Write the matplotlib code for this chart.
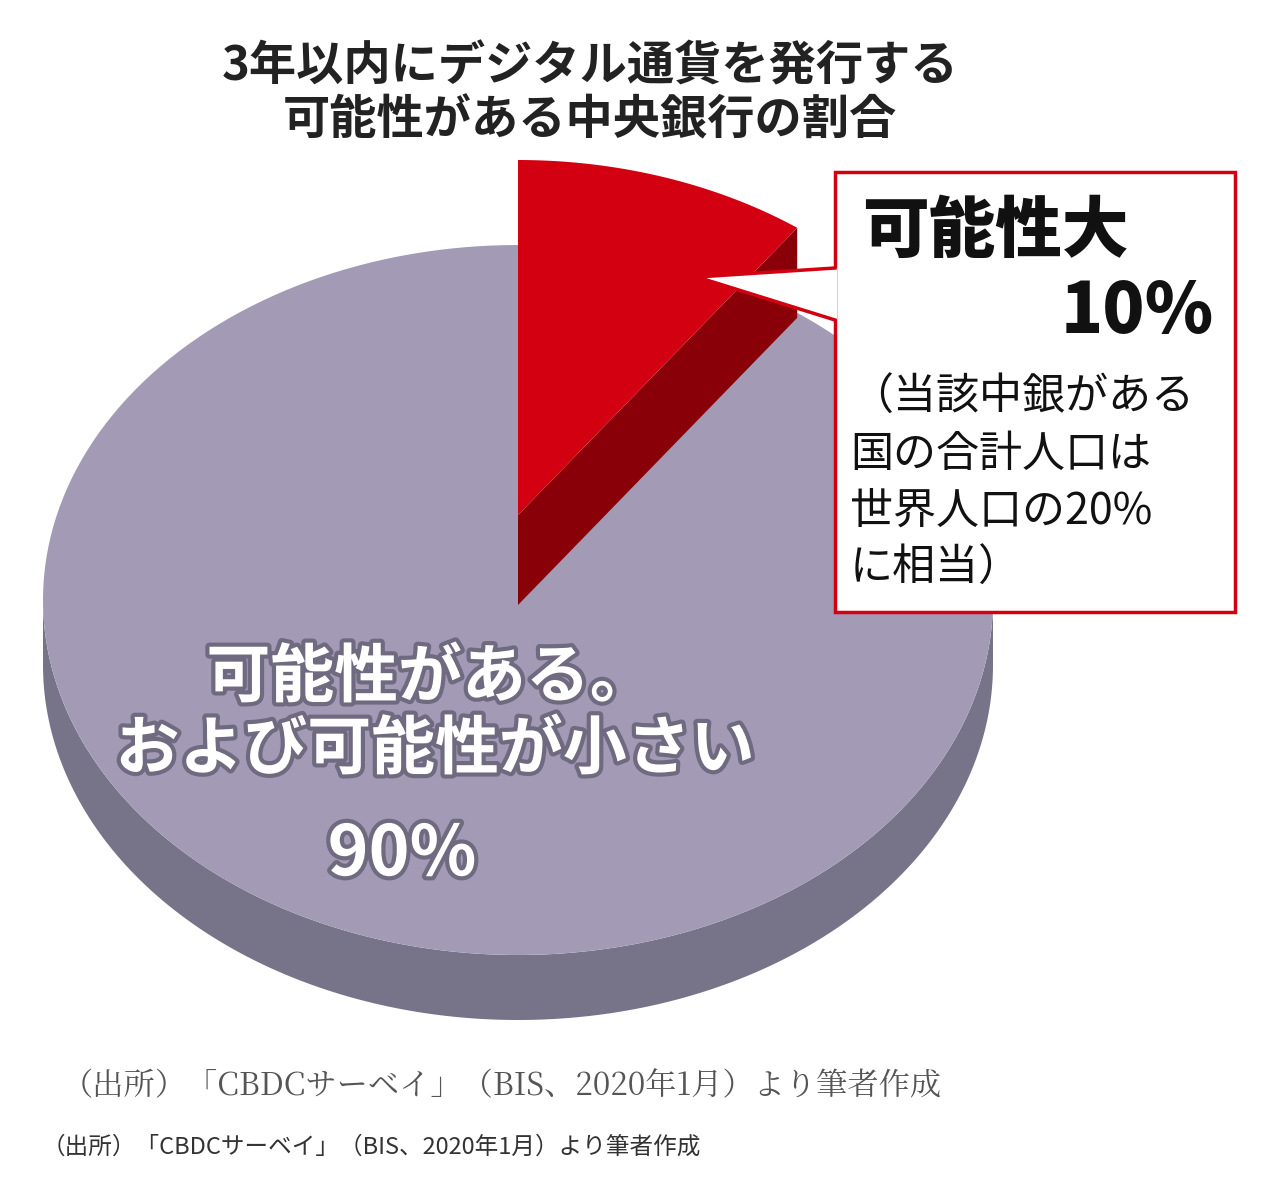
import numpy as np
import matplotlib
matplotlib.use("Agg")
import matplotlib.pyplot as plt
from matplotlib.patches import Polygon, Rectangle
import matplotlib.patheffects as pe

plt.rcParams['font.family'] = ['Noto Sans CJK JP', 'DejaVu Sans']

categories = ["可能性大", "可能性がある。および可能性が小さい"]
values = [10, 90]
title_lines = ["3年以内にデジタル通貨を発行する", "可能性がある中央銀行の割合"]
note_lines = ["（当該中銀がある", "国の合計人口は", "世界人口の20%", "に相当）"]

W, H = 1286, 1182
fig = plt.figure(figsize=(W/100, H/100), dpi=100)
ax = fig.add_axes([0, 0, 1, 1])
ax.set_xlim(0, W); ax.set_ylim(H, 0); ax.axis('off')

cx, cy, rx, ry, th = 518, 600, 475, 355, 65
frac = np.array(values) / sum(values)
a_red_end = 90 - 360 * frac[0]

def arc(a0, a1, x0, y0, n=200):
    t = np.radians(np.linspace(a0, a1, n))
    return np.column_stack([x0 + rx*np.cos(t), y0 - ry*np.sin(t)])

top = arc(180, 360, cx, cy)
bot = arc(360, 180, cx, cy + th)
ax.add_patch(Polygon(np.vstack([top, bot]), closed=True, fc='#777388', ec='none'))
gtop = arc(a_red_end, a_red_end - 360*frac[1], cx, cy)
ax.add_patch(Polygon(np.vstack([[cx, cy], gtop]), closed=True, fc='#a39bb6', ec='none'))

lift, rth = 85, 90
rcy = cy - lift
rt = arc(90, a_red_end, cx, rcy)
edge = rt[-1]
side = np.array([[cx, rcy], edge, [edge[0], edge[1] + rth], [cx, rcy + rth]])
ax.add_patch(Polygon(side, closed=True, fc='#8a0008', ec='none'))
ax.add_patch(Polygon(np.vstack([[cx, rcy], rt]), closed=True, fc='#d20010', ec='none'))

for i, t in enumerate(title_lines):
    ax.text(590, 66 + 54*i, t, ha='center', va='center', fontsize=34, fontweight='bold', color='#222')

ax.add_patch(Rectangle((835, 172), 400, 440, fc='white', ec='#d20010', lw=2.5))
ax.add_patch(Polygon([[837, 268], [697, 277], [837, 320]], closed=True, fc='white', ec='none', zorder=3))
ax.plot([835, 697, 835], [268, 277, 320], color='#d20010', lw=2.5, zorder=4)
ax.text(862, 232, categories[0], ha='left', va='center', fontsize=48, fontweight='black', color='#111')
ax.text(1214, 312, f"{values[0]}%", ha='right', va='center', fontsize=50, fontweight='black', color='#111')
for i, t in enumerate(note_lines):
    ax.text(850, 398 + 57*i, t, ha='left', va='center', fontsize=31, color='#111')

sh = [pe.withStroke(linewidth=6, foreground='#6f6a80')]
ax.text(430, 678, "可能性がある。", ha='center', va='center', fontsize=46, fontweight='bold', color='white', path_effects=sh)
ax.text(435, 750, "および可能性が小さい", ha='center', va='center', fontsize=46, fontweight='bold', color='white', path_effects=sh)
ax.text(402, 855, f"{values[1]}%", ha='center', va='center', fontsize=50, fontweight='bold', color='white', path_effects=sh)

ax.text(62, 1085, "（出所）「CBDCサーベイ」（BIS、2020年1月）より筆者作成", ha='left', va='center',
        fontsize=22.5, color='#555', family=['Noto Serif CJK JP', 'Noto Sans CJK JP', 'DejaVu Sans'])
ax.text(42, 1147, "（出所）「CBDCサーベイ」（BIS、2020年1月）より筆者作成", ha='left', va='center',
        fontsize=17, color='#333')
fig.savefig("out.png", dpi=100, facecolor='white')
